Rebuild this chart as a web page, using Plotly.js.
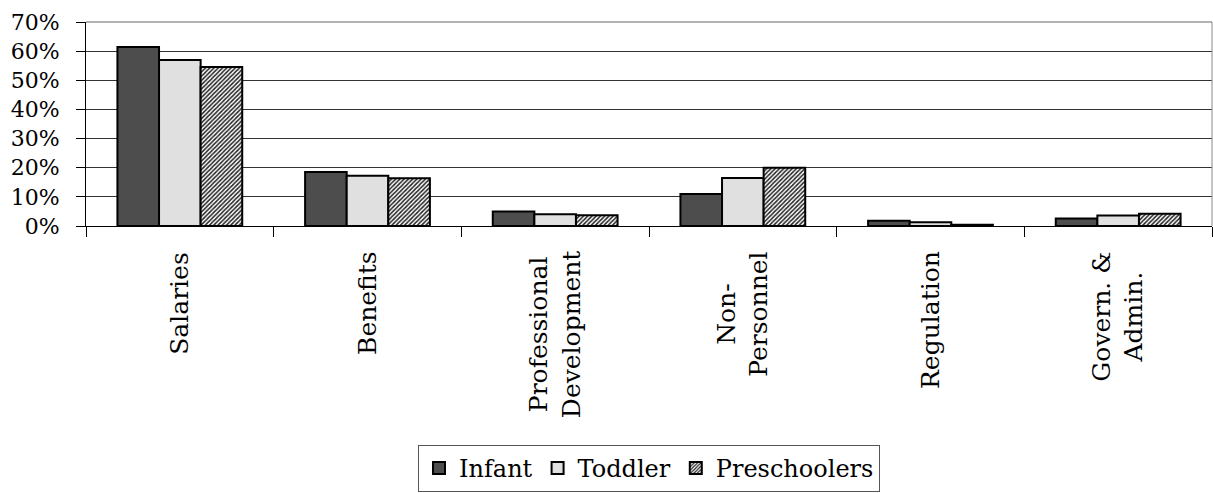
<!DOCTYPE html>
<html>
<head>
<meta charset="utf-8">
<script src="https://cdn.plot.ly/plotly-3.0.1.min.js"></script>
<style>
html,body{margin:0;padding:0;background:#fff;}
#chart{width:1213px;height:493px;}
</style>
</head>
<body>
<div id="chart"></div>
<script>
var categories = ['Salaries', 'Benefits', 'Professional<br>Development', 'Non-<br>Personnel', 'Regulation', 'Govern. &<br>Admin.'];
var seriesNames = ['Infant', 'Toddler', 'Preschoolers'];
var infant = [0.614, 0.185, 0.050, 0.110, 0.018, 0.026];
var toddler = [0.570, 0.172, 0.040, 0.165, 0.013, 0.036];
var preschoolers = [0.546, 0.164, 0.037, 0.200, 0.004, 0.042];
var yTickVals = [0, 0.1, 0.2, 0.3, 0.4, 0.5, 0.6, 0.7];
var yTickText = ['0%', '10%', '20%', '30%', '40%', '50%', '60%', '70%'];

var serif = 'DejaVu Serif';

var traces = [
  {type: 'bar', name: seriesNames[0], x: categories, y: infant,
   marker: {color: '#4d4d4d', line: {color: '#000', width: 2}}},
  {type: 'bar', name: seriesNames[1], x: categories, y: toddler,
   marker: {color: '#e0e0e0', line: {color: '#000', width: 2}}},
  {type: 'bar', name: seriesNames[2], x: categories, y: preschoolers,
   marker: {color: '#ffffff', line: {color: '#000', width: 2},
            pattern: {shape: '/', fgcolor: '#222', bgcolor: '#fff', size: 3, solidity: 0.5}}}
];

var annotations = categories.map(function (c) {
  return {
    x: c, xref: 'x', y: -0.115, yref: 'paper',
    text: c, showarrow: false, textangle: -90,
    xanchor: 'center', yanchor: 'top', align: 'center',
    font: {family: serif, size: 25, color: '#000'}
  };
});

var layout = {
  width: 1213, height: 493,
  margin: {l: 86, r: 1, t: 22, b: 265, pad: 0},
  paper_bgcolor: '#fff', plot_bgcolor: '#fff',
  barmode: 'group', bargap: 0.335, bargroupgap: 0,
  font: {family: serif, color: '#000'},
  xaxis: {
    type: 'category', showticklabels: false, ticks: 'outside', tickson: 'boundaries',
    ticklen: 10, tickcolor: '#000', tickwidth: 1,
    showline: true, linecolor: '#000', linewidth: 1, showgrid: false, zeroline: false
  },
  yaxis: {
    range: [0, 0.7], tickvals: yTickVals, ticktext: yTickText,
    ticks: 'outside', ticklen: 9, tickcolor: '#000', tickwidth: 1,
    ticklabelstandoff: 12,
    showline: true, linecolor: '#000', linewidth: 1,
    showgrid: true, gridcolor: '#333', gridwidth: 1, zeroline: false,
    tickfont: {family: serif, size: 22, color: '#000'}
  },
  showlegend: true,
  legend: {
    orientation: 'h', x: 0.5, xanchor: 'center', xref: 'paper',
    y: -1.073, yanchor: 'top',
    font: {family: serif, size: 24, color: '#000'},
    bordercolor: '#555', borderwidth: 1, bgcolor: '#fff',
    itemwidth: 30, tracegroupgap: 0
  },
  shapes: [
    {type: 'line', xref: 'paper', yref: 'paper', x0: 1, x1: 1, y0: 0, y1: 1,
     line: {color: '#888', width: 1}},
    {type: 'line', xref: 'paper', yref: 'paper', x0: 0, x1: 1, y0: 1, y1: 1,
     line: {color: '#666', width: 1}}
  ],
  annotations: annotations
};

Plotly.newPlot('chart', traces, layout, {displayModeBar: false, staticPlot: true});
</script>
</body>
</html>
